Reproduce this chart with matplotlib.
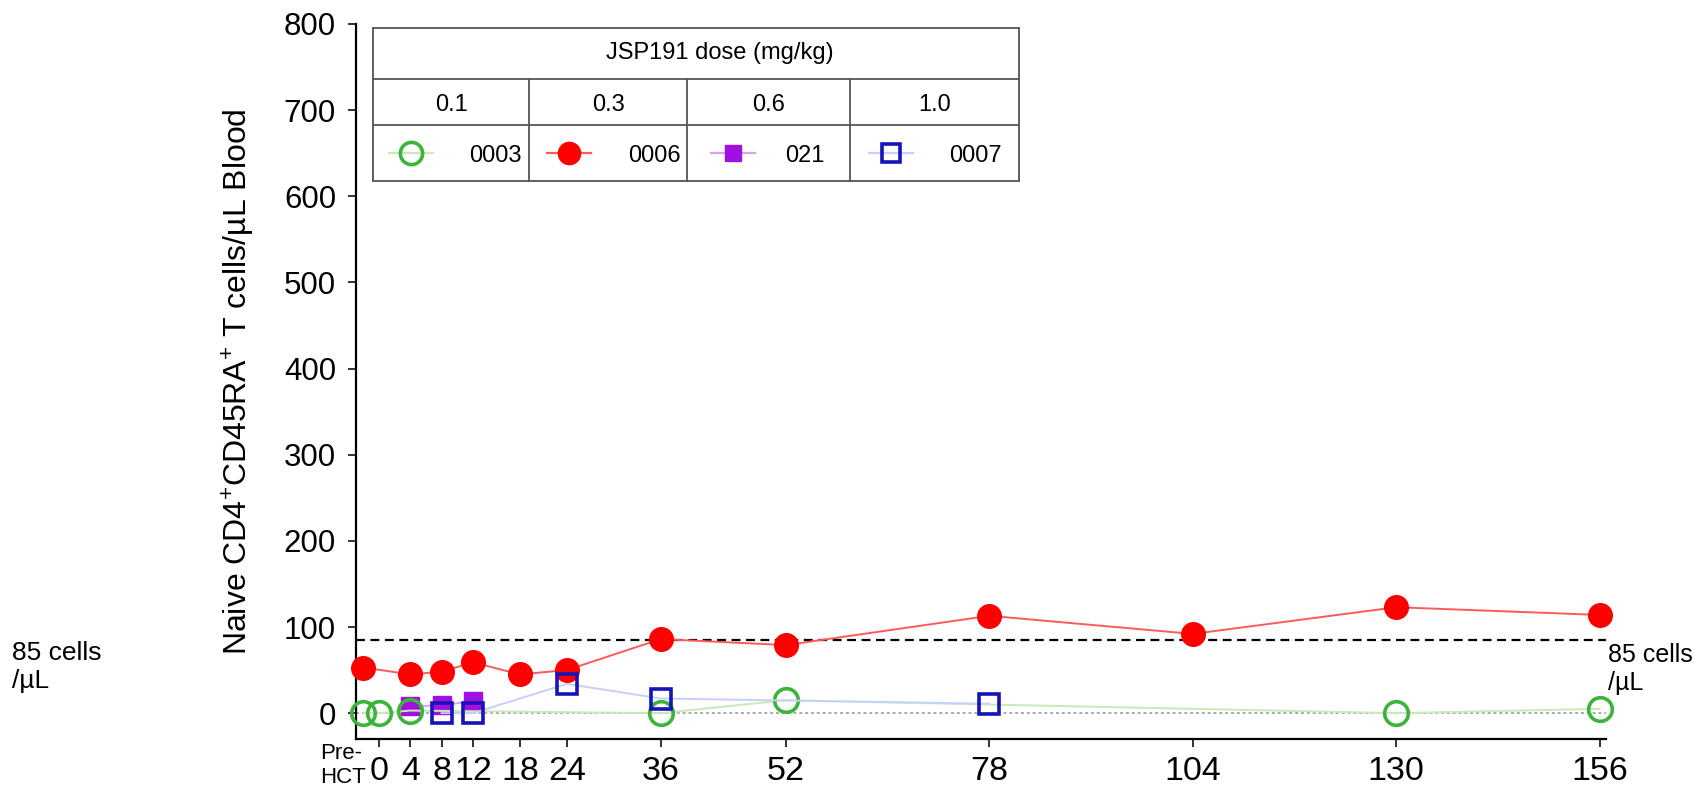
import matplotlib
matplotlib.use("Agg")
import matplotlib.pyplot as plt
from matplotlib.lines import Line2D

plt.rcParams['font.family'] = ['Liberation Sans', 'DejaVu Sans']
plt.rcParams['mathtext.fontset'] = 'custom'
plt.rcParams['mathtext.rm'] = 'Liberation Sans'

# ---------------- data ----------------
PRE = -2  # position used for the Pre-HCT sample
xtick_pos = [0, 4, 8, 12, 18, 24, 36, 52, 78, 104, 130, 156]
xtick_labels = ['0', '4', '8', '12', '18', '24', '36', '52', '78', '104', '130', '156']
ytick_pos = [0, 100, 200, 300, 400, 500, 600, 700, 800]

wk_0003 = [PRE, 0, 4, 36, 52, 130, 156]
val_0003 = [0, 0, 3, 0, 15, 0, 5]

wk_0006 = [PRE, 4, 8, 12, 18, 24, 36, 52, 78, 104, 130, 156]
val_0006 = [53, 45, 48, 59, 45, 50, 86, 79, 113, 92, 123, 114]

wk_021 = [4, 8, 12]
val_021 = [8, 9, 14]

wk_0007 = [8, 12, 24, 36, 78]
val_0007 = [0, 0, 34, 17, 11]

threshold = 85
dose_labels = ['0.1', '0.3', '0.6', '1.0']
patient_ids = ['0003', '0006', '021', '0007']
table_title = 'JSP191 dose (mg/kg)'

# ---------------- styles ----------------
styles = {
    '0003': dict(marker='o', mfc='none', mec='#3cb43c', mew=2.6, ms=17, lc='#cbe8b8'),
    '0006': dict(marker='o', mfc='#ff0000', mec='#ff0000', mew=1, ms=17, lc='#ff5a5a'),
    '021':  dict(marker='s', mfc='#a010e0', mec='#a010e0', mew=1, ms=12.5, lc='#dba0ef'),
    '0007': dict(marker='s', mfc='none', mec='#1414b8', mew=2.6, ms=14.5, lc='#c6d0ff'),
}
series = {
    '0003': (wk_0003, val_0003, 5),
    '0006': (wk_0006, val_0006, 3),
    '021': (wk_021, val_021, 4),
    '0007': (wk_0007, val_0007, 6),
}

fig = plt.figure(figsize=(16.94, 8.0), dpi=100)
W, H = 1694, 800
ax_l, ax_r, ax_b, ax_t = 355.5, 1606, 739, 24
ax = fig.add_axes([ax_l / W, (H - ax_b) / H, (ax_r - ax_l) / W, (ax_b - ax_t) / H])

ax.set_xlim(-3.0, 156.8)
ax.set_ylim(-30, 800)

# reference lines
ax.axhline(threshold, color='black', lw=1.6, ls=(0, (4, 2.5)), zorder=2)
ax.axhline(0, color='#aaaaaa', lw=1.4, ls=(0, (1.5, 1.5)), zorder=1)

for pid in ['0006', '021', '0003', '0007']:
    x, y, z = series[pid]
    s = styles[pid]
    ax.plot(x, y, color=s['lc'], lw=1.4, zorder=z - 0.5)
    ax.plot(x, y, ls='none', marker=s['marker'], ms=s['ms'], mfc=s['mfc'],
            mec=s['mec'], mew=s['mew'], zorder=z, clip_on=False)

# axes styling
for side in ['top', 'right']:
    ax.spines[side].set_visible(False)
for side in ['left', 'bottom']:
    ax.spines[side].set_linewidth(1.6)
ax.set_yticks(ytick_pos)
ax.set_yticklabels([str(v) for v in ytick_pos], fontsize=22.5)
ax.set_xticks(xtick_pos)
ax.set_xticklabels(xtick_labels, fontsize=24.5)
ax.tick_params(axis='both', direction='out', length=6, width=1.4, color='#333333')
ax.tick_params(axis='y', pad=8)
ax.tick_params(axis='x', pad=6)

ax.set_ylabel('Naive CD4$^{+}$CD45RA$^{+}$ T cells/µL Blood', fontsize=23, labelpad=20)

# Pre-HCT label
ax.text(-1.7, -0.006, 'Pre-\nHCT', transform=ax.get_xaxis_transform(), ha='right', va='top',
        multialignment='left', linespacing=1.15, fontsize=16)

# side annotations (cropped from neighbouring panels)
fig.text(12 / W, 1 - 667 / H, '85 cells\n/µL', fontsize=19, ha='left', va='center', linespacing=1.2)
fig.text(1608 / W, 1 - 669 / H, '85 cells\n/µL', fontsize=18, ha='left', va='center', linespacing=1.25)

# ---------------- legend table ----------------
def fx(px):
    return (px - ax_l) / (ax_r - ax_l)

def fy(py):
    return (ax_b - py) / (ax_b - ax_t)

cols = [373, 529, 687, 850, 1019]
rows = [28, 79, 125, 181]
tc = '#555555'
tl = 1.3
tr = ax.transAxes
for py in rows:
    ax.add_line(Line2D([fx(cols[0]), fx(cols[-1])], [fy(py), fy(py)], transform=tr, color=tc, lw=tl, zorder=10))
for i, px in enumerate(cols):
    y0 = rows[-1]
    y1 = rows[0] if i in (0, len(cols) - 1) else rows[1]
    ax.add_line(Line2D([fx(px), fx(px)], [fy(y0), fy(y1)], transform=tr, color=tc, lw=tl, zorder=10))
ax.add_patch(plt.Rectangle((fx(cols[0]), fy(rows[-1])), fx(cols[-1]) - fx(cols[0]),
                           fy(rows[0]) - fy(rows[-1]), transform=tr, facecolor='white',
                           edgecolor='none', zorder=9))
ax.text(fx(720), fy((rows[0] + rows[1]) / 2), table_title, transform=tr,
        ha='center', va='center', fontsize=17, zorder=11)
marker_px = [411, 569, 733, 891]
text_px = [522, 681, 824, 1002]
for i, (dose, pid) in enumerate(zip(dose_labels, patient_ids)):
    ax.text(fx((cols[i] + cols[i + 1]) / 2), fy((rows[1] + rows[2]) / 2) - 0.004, dose, transform=tr,
            ha='center', va='center', fontsize=17, zorder=11)
    s = styles[pid]
    ym = fy((rows[2] + rows[3]) / 2)
    ax.add_line(Line2D([fx(marker_px[i] - 22), fx(marker_px[i] + 22)], [ym, ym], transform=tr,
                       color=s['lc'], lw=1.6, zorder=11))
    ax.add_line(Line2D([fx(marker_px[i])], [ym], transform=tr, ls='none', marker=s['marker'],
                       ms=s['ms'] - 1, mfc=s['mfc'], mec=s['mec'], mew=s['mew'], zorder=12))
    ax.text(fx(text_px[i]), ym - 0.004, pid, transform=tr, ha='right', va='center', fontsize=17, zorder=11)

fig.savefig('out.png', dpi=100)
